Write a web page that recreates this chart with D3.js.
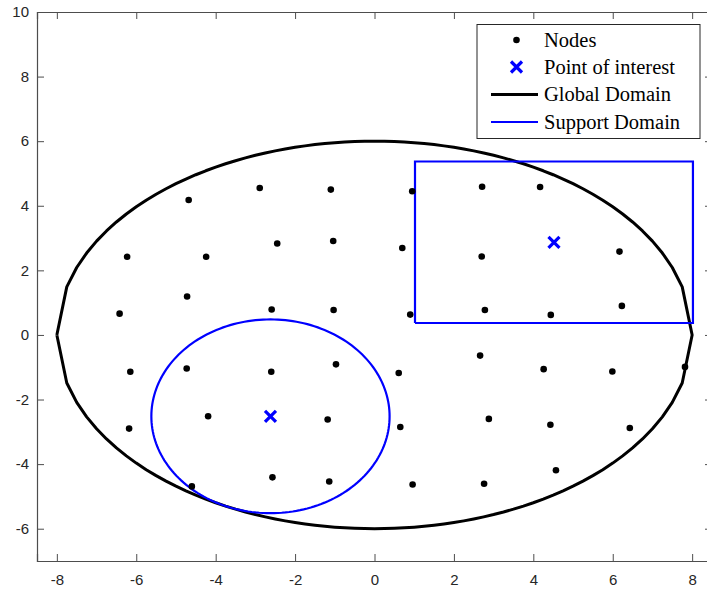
<!DOCTYPE html>
<html>
<head>
<meta charset="utf-8">
<script src="https://cdn.jsdelivr.net/npm/d3@7"></script>
<style>
  body { margin: 0; background: #fff; }
  .axis text { font-family: "Liberation Sans", Arial, sans-serif; font-size: 15px; fill: #262626; }
  .axis path, .axis line { stroke: #4d4d4d; }
  .legend text { font-family: "Liberation Serif", serif; font-size: 20.5px; fill: #000; }
</style>
</head>
<body>
<div id="chart"></div>
<script>
// node positions
var nodeX = [-4.68, -2.89, -1.10, 0.95, 2.71, 4.17,
             -6.23, -4.24, -2.45, -1.04, 0.70, 2.70, 6.17,
             -6.42, -4.72, -2.59, -1.03, 0.90, 2.78, 4.44, 6.23,
             -6.15, -4.73, -2.60, -0.97, 0.61, 2.66, 4.26, 5.99, 7.82,
             -6.18, -4.19, -1.18, 0.65, 2.88, 4.43, 6.43,
             -4.60, -2.57, -1.14, 0.96, 2.76, 4.57];
var nodeY = [4.18, 4.55, 4.50, 4.45, 4.59, 4.58,
             2.42, 2.42, 2.83, 2.91, 2.69, 2.43, 2.58,
             0.66, 1.19, 0.79, 0.77, 0.63, 0.77, 0.62, 0.90,
             -1.14, -1.04, -1.14, -0.91, -1.18, -0.64, -1.06, -1.13, -0.99,
             -2.90, -2.52, -2.62, -2.85, -2.60, -2.78, -2.88,
             -4.69, -4.41, -4.54, -4.63, -4.61, -4.19];

// points of interest
var poiX = [-2.62, 4.52];
var poiY = [-2.52, 2.87];

// global domain: ellipse, semi axes, sampled along x
var globalA = 8, globalB = 6, globalStep = 0.25;
// support domains: circle radius around poi 1, rectangle half sizes around poi 2
var circleR = 3;
var rectHalfW = 3.5, rectHalfH = 2.5;

var xTicks = [-8, -6, -4, -2, 0, 2, 4, 6, 8];
var yTicks = [-6, -4, -2, 0, 2, 4, 6, 8, 10];
var legendLabels = ["Nodes", "Point of interest", "Global Domain", "Support Domain"];

var W = 707, H = 590;
var plot = {left: 37, right: 712, top: 12, bottom: 561};

var svg = d3.select("#chart").append("svg")
    .attr("width", W)
    .attr("height", H);

var x = d3.scaleLinear().domain([-8.5, 8.5]).range([plot.left, plot.right]);
var y = d3.scaleLinear().domain([-7, 10]).range([plot.bottom, plot.top]);

var line = d3.line()
    .x(function(d) { return x(d[0]); })
    .y(function(d) { return y(d[1]); });

// global domain: upper half left->right, lower half right->left
var xs = d3.range(-globalA, globalA + globalStep / 2, globalStep);
function half(v) { return globalB * Math.sqrt(Math.max(0, 1 - (v * v) / (globalA * globalA))); }
var globalPts = xs.map(function(v) { return [v, half(v)]; })
    .concat(xs.slice().reverse().map(function(v) { return [v, -half(v)]; }));
svg.append("path")
    .attr("d", line(globalPts))
    .attr("fill", "none")
    .attr("stroke", "#000")
    .attr("stroke-width", 3)
    .attr("stroke-linejoin", "round");

// support domain circle
var circPts = d3.range(201).map(function(i) {
    var t = 2 * Math.PI * i / 200;
    return [poiX[0] + circleR * Math.cos(t), poiY[0] + circleR * Math.sin(t)];
});
svg.append("path")
    .attr("d", line(circPts))
    .attr("fill", "none")
    .attr("stroke", "#0000ff")
    .attr("stroke-width", 2.2);

// support domain rectangle
var rectPts = [
    [poiX[1] - rectHalfW, poiY[1] - rectHalfH],
    [poiX[1] + rectHalfW, poiY[1] - rectHalfH],
    [poiX[1] + rectHalfW, poiY[1] + rectHalfH],
    [poiX[1] - rectHalfW, poiY[1] + rectHalfH],
    [poiX[1] - rectHalfW, poiY[1] - rectHalfH]
];
svg.append("path")
    .attr("d", line(rectPts))
    .attr("fill", "none")
    .attr("stroke", "#0000ff")
    .attr("stroke-width", 2.2);

// nodes
svg.selectAll("circle.node")
    .data(nodeX)
    .enter().append("circle")
    .attr("class", "node")
    .attr("cx", function(d) { return x(d); })
    .attr("cy", function(d, i) { return y(nodeY[i]); })
    .attr("r", 3.3)
    .attr("fill", "#000");

// points of interest
function cross(g, cx, cy, s) {
    g.append("path")
        .attr("d", "M" + (cx - s) + "," + (cy - s) + "L" + (cx + s) + "," + (cy + s) +
                   "M" + (cx - s) + "," + (cy + s) + "L" + (cx + s) + "," + (cy - s))
        .attr("stroke", "#0000ff")
        .attr("stroke-width", 3.2)
        .attr("fill", "none");
}
poiX.forEach(function(d, i) {
    cross(svg, x(d), y(poiY[i]), 5.5);
});

// axes (box with inward ticks)
svg.append("g")
    .attr("class", "axis")
    .attr("transform", "translate(0," + plot.bottom + ")")
    .call(d3.axisBottom(x).tickValues(xTicks).tickSize(-7).tickPadding(13).tickFormat(d3.format("d")));
svg.append("g")
    .attr("class", "axis")
    .attr("transform", "translate(" + plot.left + ",0)")
    .call(d3.axisLeft(y).tickValues(yTicks).tickSize(-7).tickPadding(8).tickFormat(d3.format("d")));
svg.append("g")
    .attr("class", "axis")
    .attr("transform", "translate(0," + plot.top + ")")
    .call(d3.axisTop(x).tickValues(xTicks).tickSize(-7).tickFormat(""));
svg.append("g")
    .attr("class", "axis")
    .attr("transform", "translate(" + plot.right + ",0)")
    .call(d3.axisRight(y).tickValues(yTicks).tickSize(-7).tickFormat(""));
svg.selectAll(".axis .domain").attr("stroke-width", 1.2);
// MATLAB uses a plain hyphen
svg.selectAll(".axis text").text(function() { return this.textContent.replace("\u2212", "-"); });

// legend
var leg = svg.append("g").attr("class", "legend");
leg.append("rect")
    .attr("x", 477).attr("y", 24.5)
    .attr("width", 223).attr("height", 114)
    .attr("fill", "#fff")
    .attr("stroke", "#262626")
    .attr("stroke-width", 1);
var rowY = [40, 67, 94.5, 122];
leg.append("circle").attr("cx", 516.5).attr("cy", rowY[0]).attr("r", 3.3).attr("fill", "#000");
cross(leg, 516.5, rowY[1], 5.5);
leg.append("line").attr("x1", 491).attr("x2", 538).attr("y1", rowY[2]).attr("y2", rowY[2])
    .attr("stroke", "#000").attr("stroke-width", 3);
leg.append("line").attr("x1", 491).attr("x2", 538).attr("y1", rowY[3]).attr("y2", rowY[3])
    .attr("stroke", "#0000ff").attr("stroke-width", 2.2);
leg.selectAll("text")
    .data(legendLabels)
    .enter().append("text")
    .attr("x", 544)
    .attr("y", function(d, i) { return rowY[i]; })
    .attr("dy", "0.33em")
    .text(function(d) { return d; });
</script>
</body>
</html>
